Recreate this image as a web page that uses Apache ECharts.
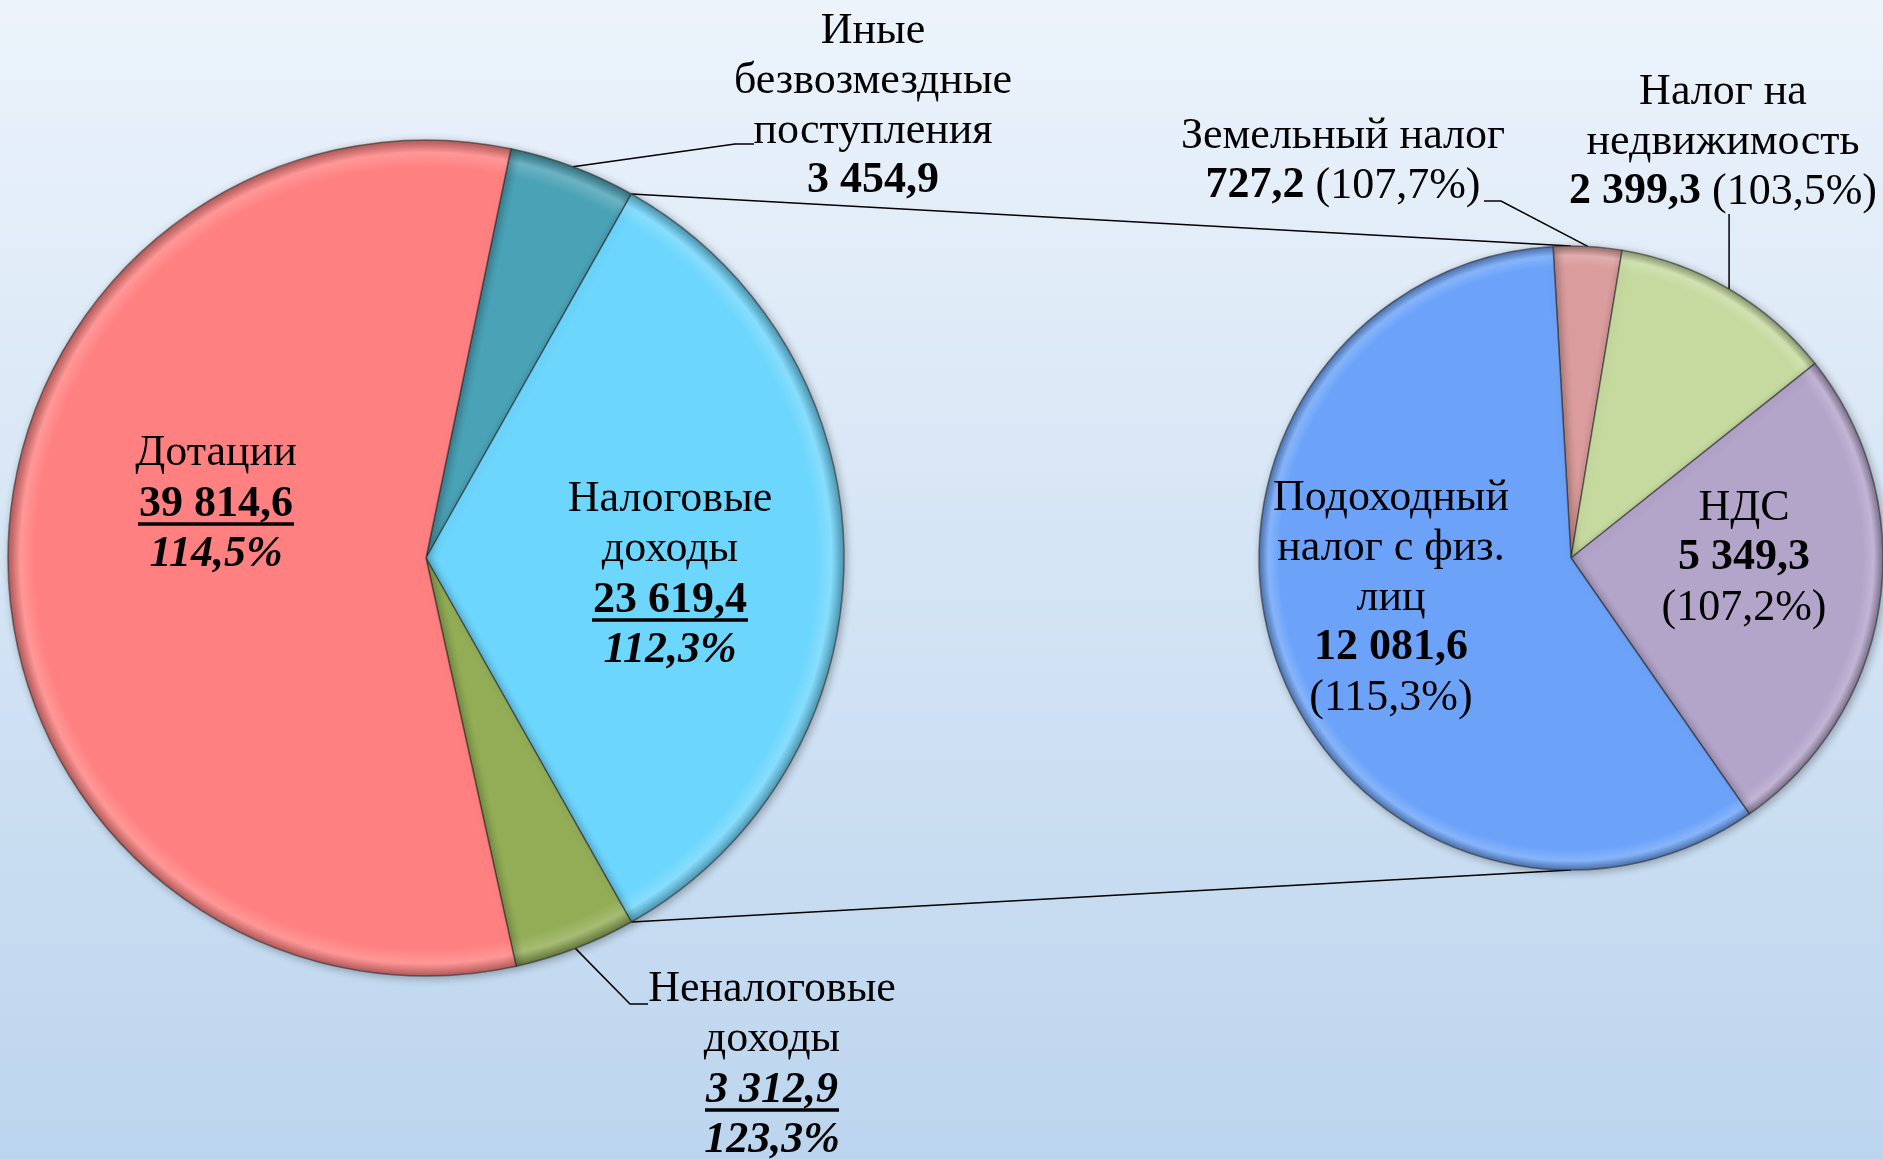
<!DOCTYPE html>
<html>
<head>
<meta charset="utf-8">
<script src="https://cdn.jsdelivr.net/npm/echarts@6/dist/echarts.min.js"></script>
<style>
  html, body { margin: 0; padding: 0; }
  #main { width: 1883px; height: 1159px; }
</style>
</head>
<body>
<div id="main"></div>
<script>
// доходы бюджета (левый круг) и налоговые доходы (правый круг)
var mainNames = ['Иные\nбезвозмездные\nпоступления', 'Налоговые\nдоходы', 'Неналоговые\nдоходы', 'Дотации'];
var mainValues = [3454.9, 23619.4, 3312.9, 39814.6];
var mainPercents = [null, '112,3%', '123,3%', '114,5%'];

var taxNames = ['Земельный налог', 'Налог на\nнедвижимость', 'НДС', 'Подоходный\nналог с физ.\nлиц'];
var taxValues = [727.2, 2399.3, 5349.3, 12081.6];
var taxPercents = ['107,7%', '103,5%', '107,2%', '115,3%'];

var mainColors = ['#4AA2B6', '#6DD6FD', '#92AD56', '#FF8080'];
var taxColors = ['#DA9C9C', '#C6DAA0', '#B3A4CA', '#6CA3F9'];

// геометрия кругов
var L = { cx: 426, cy: 558, r: 418 };
var R = { cx: 1571, cy: 558, r: 312 };

// где стоят подписи (центр блока) и изломы выносок
var mainLabelAt = [
    [873, 106, [735, 144], [754, 144]],
    [670, 577],
    [772, 1067, [630, 1004], [648, 1004]],
    [216, 506]
];
var taxLabelAt = [
    [1343, 161, [1501, 201], [1484, 201]],
    [1723, 142, 214],
    [1744, 558],
    [1391, 598]
];

var FONT = 'Liberation Serif';
var FS = 44;

function sum(a) { return a.reduce(function (s, v) { return s + v; }, 0); }

function fmtNum(v) {
    var s = v.toFixed(1).split('.');
    return s[0].replace(/\B(?=(\d{3})+(?!\d))/g, ' ') + ',' + s[1];
}

var ctx = document.createElement('canvas').getContext('2d');
function textW(s, font) {
    ctx.font = font;
    return Math.ceil(ctx.measureText(s).width);
}

function mix(c, t, k) {
    var a = echarts.color.parse(c), b = echarts.color.parse(t);
    return 'rgb(' + [0, 1, 2].map(function (i) {
        return Math.round(a[i] + (b[i] - a[i]) * k);
    }).join(',') + ')';
}

function bevel(c, g) {
    return new echarts.graphic.RadialGradient(g.cx, g.cy, g.r, [
        { offset: 0, color: c },
        { offset: 0.935, color: c },
        { offset: 0.97, color: mix(c, '#ffffff', 0.18) },
        { offset: 1, color: mix(c, '#000000', 0.3) }
    ], true);
}

var txt = { fontFamily: FONT, fontSize: FS, color: '#000', align: 'center' };
function st(extra) { return Object.assign({}, txt, extra); }

var rich = {
    n: st({ lineHeight: 50 }),
    b: st({ lineHeight: 50, fontWeight: 'bold' }),
    // сумма опущена на 4px, чтобы черта легла сразу под цифры
    bu: st({ lineHeight: 44, fontWeight: 'bold', padding: [8, 0, 0, 0] }),
    bui: st({ lineHeight: 44, fontWeight: 'bold', fontStyle: 'italic', padding: [8, 0, 0, 0] }),
    bi: st({ lineHeight: 58, fontWeight: 'bold', fontStyle: 'italic' })
};
// подчёркивание под суммами
mainValues.forEach(function (v, i) {
    var font = (i === 2 ? 'italic ' : '') + 'bold ' + FS + 'px "' + FONT + '"';
    rich['u' + i] = {
        width: textW(fmtNum(v), font) + 2, height: 3.5, lineHeight: 3,
        backgroundColor: '#000', fontSize: 1, align: 'center'
    };
});

function mainLabel(p) {
    var i = p.dataIndex;
    var lines = mainNames[i].split('\n').map(function (t) { return '{n|' + t + '}'; });
    var num = fmtNum(mainValues[i]);
    if (mainPercents[i] == null) {
        lines.push('{b|' + num + '}');
    } else {
        lines.push('{' + (i === 2 ? 'bui' : 'bu') + '|' + num + '}');
        lines.push('{u' + i + '| }');
        lines.push('{bi|' + mainPercents[i] + '}');
    }
    return lines.join('\n');
}

function taxLabel(p) {
    var i = p.dataIndex;
    var lines = taxNames[i].split('\n').map(function (t) { return '{n|' + t + '}'; });
    var num = '{b|' + fmtNum(taxValues[i]) + '}';
    var pct = '{n|(' + taxPercents[i] + ')}';
    if (i <= 1) lines.push(num + '{n| }' + pct);
    else { lines.push(num); lines.push(pct); }
    return lines.join('\n');
}

var mainTotal = sum(mainValues);
// налоговые доходы развёрнуты вправо, к правому кругу
var mainStart = (mainValues[0] + mainValues[1] / 2) / mainTotal * 360;
var half = mainValues[1] / 2 / mainTotal * 2 * Math.PI;
var cTop = [L.cx + L.r * Math.cos(half), L.cy - L.r * Math.sin(half)];
var cBot = [L.cx + L.r * Math.cos(half), L.cy + L.r * Math.sin(half)];

var sliceStyle = {
    borderColor: 'rgba(40,40,40,0.55)',
    borderWidth: 1.5,
    shadowBlur: 8,
    shadowColor: 'rgba(0,0,0,0.3)',
    shadowOffsetX: 2,
    shadowOffsetY: 2
};

var option = {
    backgroundColor: new echarts.graphic.LinearGradient(0, 0, 0, 1, [
        { offset: 0, color: '#ECF3FB' },
        { offset: 1, color: '#BCD5EE' }
    ]),
    animation: false,
    graphic: [
        { type: 'polyline', z: 1, shape: { points: [cTop, [R.cx, R.cy - R.r]] }, style: { stroke: '#000', lineWidth: 1.5, fill: null } },
        { type: 'polyline', z: 1, shape: { points: [cBot, [R.cx, R.cy + R.r]] }, style: { stroke: '#000', lineWidth: 1.5, fill: null } }
    ],
    series: [
        {
            type: 'pie',
            name: 'Доходы',
            center: [L.cx, L.cy],
            radius: L.r,
            startAngle: mainStart,
            clockwise: true,
            avoidLabelOverlap: false,
            emphasis: { disabled: true },
            itemStyle: sliceStyle,
            label: { show: true, formatter: mainLabel, rich: rich, align: 'center' },
            labelLine: { lineStyle: { color: '#000', width: 1.5 }, length: 20, length2: 20 },
            labelLayout: function (p) {
                var a = mainLabelAt[p.dataIndex];
                var out = { x: a[0], y: a[1], align: 'center', verticalAlign: 'middle' };
                if (a[2] && p.labelLinePoints) {
                    out.labelLinePoints = [p.labelLinePoints[0], a[2], a[3]];
                }
                return out;
            },
            data: mainNames.map(function (n, i) {
                var outside = (i === 0 || i === 2);
                return {
                    name: n,
                    value: mainValues[i],
                    itemStyle: { color: bevel(mainColors[i], L) },
                    label: { position: outside ? 'outside' : 'inside' },
                    labelLine: { show: outside }
                };
            })
        },
        {
            type: 'pie',
            name: 'Налоговые доходы',
            center: [R.cx, R.cy],
            radius: R.r,
            startAngle: 93.3,
            clockwise: true,
            avoidLabelOverlap: false,
            emphasis: { disabled: true },
            itemStyle: sliceStyle,
            label: { show: true, formatter: taxLabel, rich: rich, align: 'center' },
            labelLine: { lineStyle: { color: '#000', width: 1.5 }, length: 20, length2: 20 },
            labelLayout: function (p) {
                var a = taxLabelAt[p.dataIndex];
                var out = { x: a[0], y: a[1], align: 'center', verticalAlign: 'middle' };
                if (a[2] != null && p.labelLinePoints) {
                    var s = p.labelLinePoints[0];
                    out.labelLinePoints = a[3] ? [s, a[2], a[3]] : [s, [s[0], a[2]], [s[0], a[2]]];
                }
                return out;
            },
            data: taxNames.map(function (n, i) {
                var outside = (i <= 1);
                return {
                    name: n,
                    value: taxValues[i],
                    itemStyle: { color: bevel(taxColors[i], R) },
                    label: { position: outside ? 'outside' : 'inside' },
                    labelLine: { show: outside }
                };
            })
        }
    ]
};

var chart = echarts.init(document.getElementById('main'));
chart.setOption(option);
window.onresize = function () { chart.resize(); };
</script>
</body>
</html>
